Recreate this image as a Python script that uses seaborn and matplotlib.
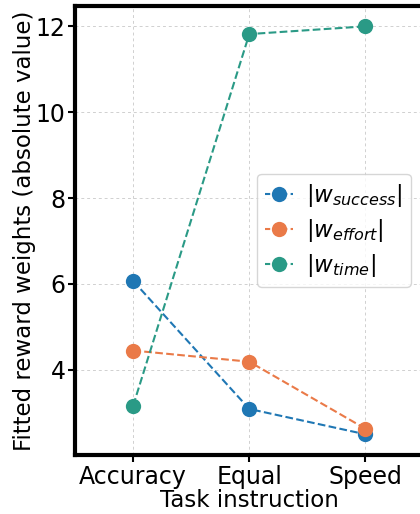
import matplotlib
matplotlib.use("Agg")
import matplotlib.pyplot as plt
import seaborn as sns
import pandas as pd

conditions = ["Accuracy", "Equal", "Speed"]
w_success = [6.07, 3.09, 2.50]
w_effort = [4.45, 4.19, 2.63]
w_time = [3.17, 11.82, 12.0]
series_labels = [r"$|w_{success}|$", r"$|w_{effort}|$", r"$|w_{time}|$"]
colors = ["#1f77b4", "#ea7a48", "#2a9a86"]

rows = []
for lab, vals in zip(series_labels, [w_success, w_effort, w_time]):
    for c, v in zip(conditions, vals):
        rows.append({"Task instruction": c, "value": v, "series": lab})
df = pd.DataFrame(rows)

sns.set_style("whitegrid")
plt.rcParams['font.family'] = ['DejaVu Sans']
plt.rcParams['text.color'] = 'black'
plt.rcParams['axes.labelcolor'] = 'black'
plt.rcParams['xtick.color'] = 'black'
plt.rcParams['ytick.color'] = 'black'
fig = plt.figure(figsize=(4.2, 5.14), dpi=100)
ax = fig.add_axes([0.179, 0.115, 0.829, 0.873])

sns.lineplot(data=df, x="Task instruction", y="value", hue="series",
             palette=colors, marker="o", markersize=11, markeredgewidth=0,
             linestyle="--", linewidth=1.5, ax=ax, sort=False)

ax.set_xlim(-0.5, 2.5)
ax.set_ylim(2.02, 12.47)
ax.set_yticks([4, 6, 8, 10, 12])
ax.set_xlabel("Task instruction", fontsize=16.5, labelpad=0)
ax.set_ylabel("Fitted reward weights (absolute value)", fontsize=16.5, labelpad=0)
ax.tick_params(axis="both", labelsize=17, length=5, width=1.5, color="black", pad=2,
               bottom=True, left=True)
ax.grid(True, linestyle=(0, (3, 3)), color="#d0d0d0", linewidth=0.7)
for s in ax.spines.values():
    s.set_color("black")
    s.set_linewidth(3)

h, l = ax.get_legend_handles_labels()
for hh in h:
    hh.set_linestyle((0, (2.5, 1.6)))
    hh.set_linewidth(1.5)
ax.legend(h, l, loc="center right", bbox_to_anchor=(0.997, 0.501), fontsize=16.5,
          frameon=True, handlelength=1.2, handletextpad=0.6, borderpad=0.35,
          labelspacing=0.35)

fig.savefig("out.png", dpi=100)
